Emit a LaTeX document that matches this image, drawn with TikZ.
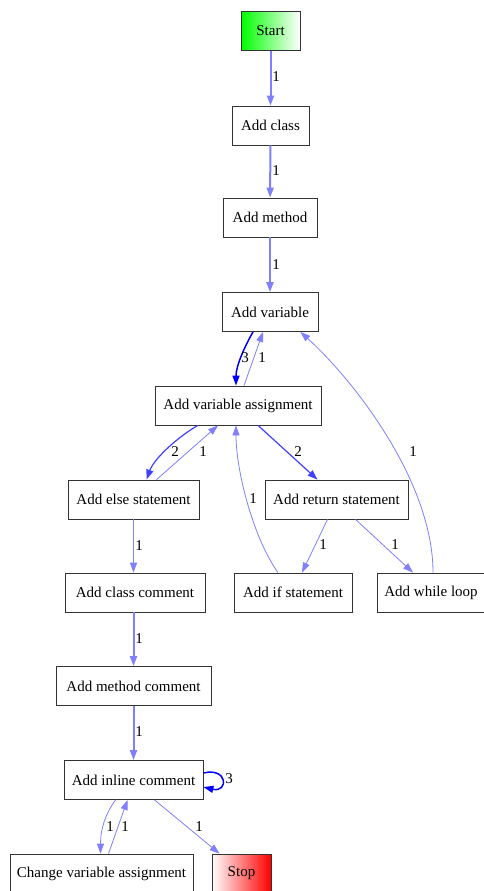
\documentclass[tikz,border=0pt]{standalone}
\usepackage{fontspec}
\setmainfont{Liberation Serif}
\usetikzlibrary{arrows.meta,calc}
\definecolor{lightb}{RGB}{128,128,255}
\definecolor{medb}{RGB}{64,64,255}
\definecolor{darkb}{RGB}{0,0,255}
\begin{document}
\begin{tikzpicture}[x=1pt,y=-1pt,
  box/.style={draw=black!80, line width=0.8pt, minimum height=39pt, inner sep=0pt, font=\fontsize{15}{17}\selectfont},
  lbl/.style={inner sep=0pt, font=\fontsize{15}{17}\selectfont},
  tip/.style={-{Triangle[length=10pt,width=7pt]}},
  thin1/.style={tip, draw=lightb, line width=0.8pt},
  thick1/.style={tip, draw=lightb, line width=2pt},
  med2/.style={tip, draw=medb, line width=1.2pt},
  dark3/.style={tip, draw=darkb, line width=1.5pt}]
\useasboundingbox (0,0) rectangle (484,891);
\fill[white] (0,0) rectangle (484,891);
% nodes
\node[box, minimum width=59pt, left color=green, right color=white] (start) at (270.5,31) {Start};
\node[box, minimum width=77pt] (cls) at (270.5,125.5) {Add class};
\node[box, minimum width=94pt] (mth) at (270,217.5) {Add method};
\node[box, minimum width=96pt] (var) at (270,312) {Add variable};
\node[box, minimum width=166pt] (asg) at (238,405.5) {Add variable assignment};
\node[box, minimum width=131pt] (els) at (133.5,499.5) {Add else statement};
\node[box, minimum width=143pt] (ret) at (336.5,499.5) {Add return statement};
\node[box, minimum width=118pt] (ifs) at (293,592.5) {Add if statement};
\node[box, minimum width=108pt] (whl) at (431,592.5) {Add while loop};
\node[box, minimum width=140pt] (ccm) at (135,592.5) {Add class comment};
\node[box, minimum width=155pt] (mcm) at (133.5,686) {Add method comment};
\node[box, minimum width=139pt] (icm) at (133.5,780) {Add inline comment};
\node[box, minimum width=183pt] (chg) at (101.5,873.5) {Change variable assignment};
\node[box, minimum width=59pt, left color=white, right color=red] (stop) at (241.5,873.5) {Stop};
% edges
\draw[thick1] (start) -- (cls);
\draw[thick1] (cls) -- (mth);
\draw[thick1] (mth) -- (var);
\draw[dark3] ($(var.south)+(-17,0)$) .. controls +(-8,14) and +(0,-20) .. ($(asg.north)+(-2,0)$);
\draw[thin1] ($(asg.north)+(6,0)$) -- ($(var.south)+(-7,0)$);
\draw[med2] ($(asg.south)+(-40,0)$) .. controls +(-18,10) and +(8,-22) .. ($(els.north)+(13,0)$);
\draw[thin1] ($(els.north)+(23,0)$) -- ($(asg.south)+(-20,0)$);
\draw[med2] ($(asg.south)+(20,0)$) -- ($(ret.north)+(-19,0)$);
\draw[thin1] ($(ifs.north)+(-15,0)$) .. controls +(-25,-35) and +(0,45) .. ($(asg.south)+(-2,0)$);
\draw[thin1] ($(ret.south)+(-9,0)$) -- ($(ifs.north)+(9,0)$);
\draw[thin1] ($(ret.south)+(19,0)$) -- ($(whl.north)+(-18,0)$);
\draw[thin1] ($(whl.north)+(2,0)$) .. controls +(0,-90) and +(55,50) .. ($(var.south east)+(-18,0)$);
\draw[thin1] (els) -- (ccm.north -| els);
\draw[thick1] (ccm.south -| mcm) -- (mcm);
\draw[thick1] (mcm) -- (icm);
\draw[dark3] ($(icm.east)+(0,-7)$) .. controls +(25,-6) and +(25,6) .. ($(icm.east)+(0,7)$);
\draw[thin1] ($(icm.south)+(-18,0)$) .. controls +(-10,14) and +(0,-25) .. ($(chg.north)+(-1,0)$);
\draw[thin1] ($(chg.north)+(7,0)$) -- ($(icm.south)+(-6,0)$);
\draw[thin1] ($(icm.south)+(21,0)$) -- ($(stop.north)+(-22,0)$);
% labels
\node[lbl] (l1) at (276,77) {1};
\node[lbl] (l2) at (276,171) {1};
\node[lbl] (l3) at (276,265) {1};
\node[lbl] (l4) at (245,358) {3};
\node[lbl] (l5) at (262,358) {1};
\node[lbl] (l6) at (175,452) {2};
\node[lbl] (l7) at (203,452) {1};
\node[lbl] (l8) at (298,452) {2};
\node[lbl] (l9) at (253,499) {1};
\node[lbl] (l10) at (323,545) {1};
\node[lbl] (l11) at (395,545) {1};
\node[lbl] (l12) at (413,452) {1};
\node[lbl] (l13) at (139,546) {1};
\node[lbl] (l14) at (139,639) {1};
\node[lbl] (l15) at (139,732) {1};
\node[lbl] (l16) at (229,779) {3};
\node[lbl] (l17) at (110,827) {1};
\node[lbl] (l18) at (125,827) {1};
\node[lbl] (l19) at (199,827) {1};
\end{tikzpicture}
\end{document}
